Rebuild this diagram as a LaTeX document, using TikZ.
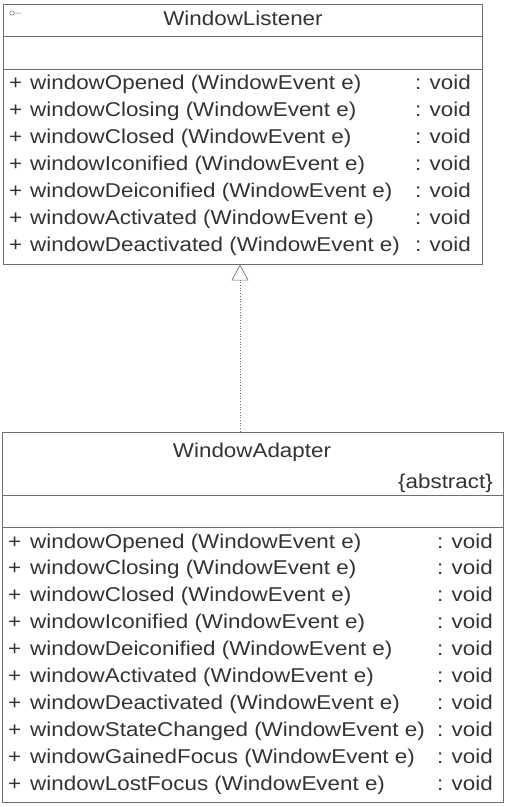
\documentclass[tikz,border=0pt]{standalone}
\usepackage{fontspec}
\setmainfont{Liberation Sans}[FakeStretch=1.12]
\usepackage{xcolor}
\usetikzlibrary{arrows.meta}

\begin{document}
\begin{tikzpicture}[x=1pt,y=-1pt,
  umlbox/.style={draw=edge,line width=0.9pt,inner sep=0pt},
  sep/.style={draw=edge,line width=0.9pt},
  txt/.style={anchor=base west,inner sep=0pt,text=ink,font=\fontsize{20}{24}\selectfont},
  realize/.style={draw=edge,line width=0.7pt,dotted,-{Triangle[open,width=17pt,length=16pt]}}]
\definecolor{edge}{HTML}{6E6E6E}
\definecolor{ink}{HTML}{333333}
\useasboundingbox (0,0) rectangle (506,807);
% the interface
\node [umlbox,minimum width=479pt,minimum height=260pt] (listener) at (242.5,134) {};
\draw [sep] (3,36.5) -- (482,36.5);
\draw [sep] (3,69) -- (482,69);
\draw [edge,line width=0.5pt] (12,13) circle (2.2) (14.2,13) -- (21,13);
\node [txt,anchor=base] (listenername) at (243,25) {WindowListener};
  \foreach \meth/\row in {windowOpened (WindowEvent e)/0,windowClosing (WindowEvent e)/1,
    windowClosed (WindowEvent e)/2,windowIconified (WindowEvent e)/3,
    windowDeiconified (WindowEvent e)/4,windowActivated (WindowEvent e)/5,
    windowDeactivated (WindowEvent e)/6}
  {  \node [txt] (lplus\row) at (9,89+27*\row) {+};
     \node [txt] (lmeth\row) at (30,89+27*\row) {\meth};
     \node [txt] (ltype\row) at (415,89+27*\row) {: void};}
% the adapter
\node [umlbox,minimum width=501pt,minimum height=370pt] (adapter) at (252.5,617) {};
\draw [sep] (2,495) -- (503,495);
\draw [sep] (2,527) -- (503,527);
\node [txt,anchor=base] (adaptername) at (252,457) {WindowAdapter};
\node [txt,anchor=base east] (abstract) at (493,488) {\{abstract\}};
  \foreach \meth/\row in {windowOpened (WindowEvent e)/0,windowClosing (WindowEvent e)/1,
    windowClosed (WindowEvent e)/2,windowIconified (WindowEvent e)/3,
    windowDeiconified (WindowEvent e)/4,windowActivated (WindowEvent e)/5,
    windowDeactivated (WindowEvent e)/6,windowStateChanged (WindowEvent e)/7,
    windowGainedFocus (WindowEvent e)/8,windowLostFocus (WindowEvent e)/9}
  {  \node [txt] (aplus\row) at (8,548+26.9*\row) {+};
     \node [txt] (ameth\row) at (30,548+26.9*\row) {\meth};
     \node [txt] (atype\row) at (437,548+26.9*\row) {: void};}
% realization
\draw [realize] (adapter.north -| 240,0) -- (listener.south -| 240,0);
\end{tikzpicture}
\end{document}
